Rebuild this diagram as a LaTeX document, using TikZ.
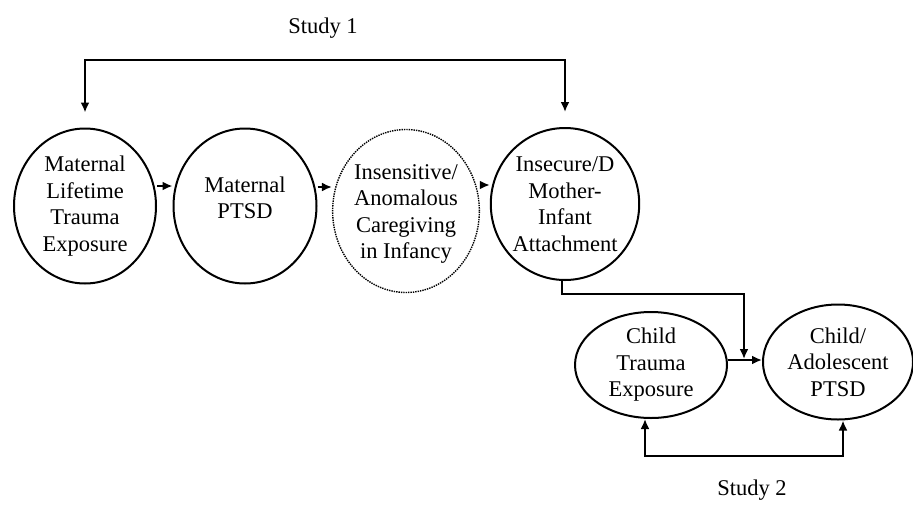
\documentclass[tikz,border=0pt]{standalone}
\usepackage{fontspec}
\setmainfont{Liberation Serif}
\usetikzlibrary{shapes.geometric,arrows.meta}
\begin{document}
\begin{tikzpicture}[x=1pt,y=1pt,node distance=160pt,
        font=\fontsize{22.5}{26.5}\selectfont,
        solid node/.style={ellipse,draw,line width=2pt,inner sep=0pt,align=center},
        dotted node/.style={ellipse,draw,densely dotted,line width=1.4pt,inner sep=0pt,align=center},
        arrow/.style={line width=2pt,-{Latex[length=10pt,width=9pt]}},
        both arrow/.style={line width=2pt,{Latex[length=10pt,width=9pt]}-{Latex[length=10pt,width=9pt]}}]

        \useasboundingbox (0,0) rectangle (913,-504);

        \node[solid node,minimum width=142pt,minimum height=155pt] (1) at (85,-206)
            {Maternal\\Lifetime\\Trauma\\Exposure};
        \node[solid node,minimum width=143pt,minimum height=155pt] (2) [right of=1]
            {Maternal\\PTSD\\[-10pt]\mbox{}};
        \node[dotted node,minimum width=145pt,minimum height=163pt] (3) at (406,-211)
            {\mbox{}\\[-6pt]Insensitive/\\Anomalous\\Caregiving\\in Infancy};
        \node[solid node,minimum width=145pt,minimum height=152pt] (4) at (565,-204)
            {Insecure/D\\Mother-\\Infant\\Attachment};

        \node[solid node,minimum width=152pt,minimum height=106pt] (5) at (651,-365)
            {Child\\Trauma\\Exposure};
        \node[solid node,minimum width=150pt,minimum height=115pt] (6) at (838,-362)
            {Child/\\Adolescent\\PTSD};

        \node (study1) at (323,-28) {Study 1};
        \node (study2) at (752,-490) {Study 2};

        \coordinate (j) at (744,-359);

        % chain of the first study
        \draw[arrow] ([yshift=20pt]1.east) -- ([yshift=20pt]2.west);
        \draw[arrow] ([yshift=19pt]2.east) -- ([yshift=24pt]3.west);
        \draw[arrow] ([yshift=26pt]3.east) -- ([yshift=19pt]4.west);
        \draw[both arrow,shorten <=15pt,shorten >=15pt] (1.north) -- ++(0,68) -| (4.north);

        % second study
        \draw[arrow] ([yshift=5pt]5.east) -- ([yshift=2pt]6.west);
        \draw[arrow] ([xshift=-3pt]4.south) -- ++(0,-13) -| (j);
        \draw[both arrow] ([xshift=-6pt]5.south) -- ++(0,-37) -| ([xshift=5pt]6.south);
    \end{tikzpicture}
\end{document}
